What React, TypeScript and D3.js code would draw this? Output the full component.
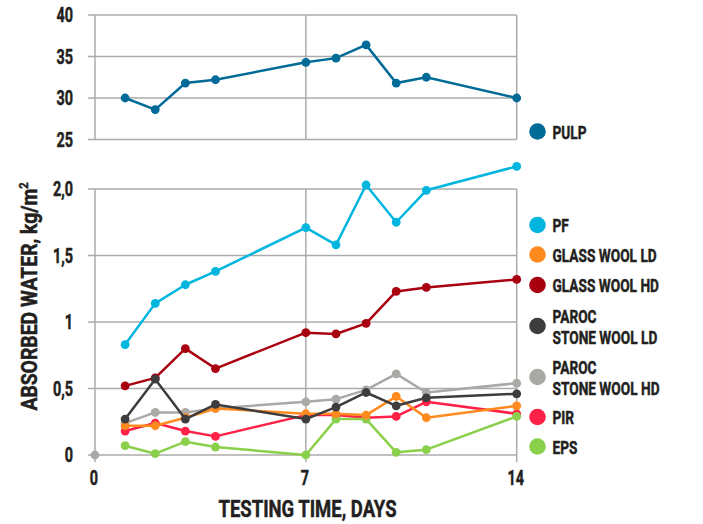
import * as d3 from "d3";

const days = [1, 2, 3, 4, 7, 8, 9, 10, 11, 14];
const pulp = [30.0, 28.6, 31.8, 32.2, 34.3, 34.8, 36.4, 31.8, 32.5, 30.0];
const pf = [0.83, 1.14, 1.28, 1.38, 1.71, 1.58, 2.03, 1.75, 1.99, 2.17];
const glassLD = [0.22, 0.22, 0.28, 0.35, 0.31, 0.31, 0.3, 0.44, 0.28, 0.37];
const glassHD = [0.52, 0.58, 0.8, 0.65, 0.92, 0.91, 0.99, 1.23, 1.26, 1.32];
const parocLD = [0.27, 0.57, 0.27, 0.38, 0.27, 0.36, 0.47, 0.37, 0.43, 0.46];
const parocHD = [0.24, 0.32, 0.32, 0.35, 0.4, 0.42, 0.49, 0.61, 0.47, 0.54];
const pir = [0.18, 0.24, 0.18, 0.14, 0.3, 0.3, 0.28, 0.29, 0.4, 0.31];
const eps = [0.07, 0.01, 0.1, 0.06, 0.0, 0.27, 0.27, 0.02, 0.04, 0.29];

const topTicks = [25, 30, 35, 40];
const bottomTicks = [0, 0.5, 1, 1.5, 2];
const bottomTickLabels = ["0", "0,5", "1", "1,5", "2,0"];
const xTicks = [0, 7, 14];

const colors = {
  pulp: "#006b97",
  pf: "#00b5de",
  glassLD: "#ff8a1e",
  glassHD: "#a8000f",
  parocLD: "#3d3d3f",
  parocHD: "#aaa9a5",
  pir: "#ff2147",
  eps: "#8bd04b",
};

// drawing order (back to front)
const bottomSeries = [
  { key: "pf", values: pf },
  { key: "glassHD", values: glassHD },
  { key: "pir", values: pir },
  { key: "eps", values: eps },
  { key: "parocHD", values: parocHD },
  { key: "glassLD", values: glassLD },
  { key: "parocLD", values: parocLD },
];

const legend = [
  { key: "pulp", lines: ["PULP"], y: 131.5 },
  { key: "pf", lines: ["PF"], y: 225 },
  { key: "glassLD", lines: ["GLASS WOOL LD"], y: 254.5 },
  { key: "glassHD", lines: ["GLASS WOOL HD"], y: 285 },
  { key: "parocLD", lines: ["PAROC", "STONE WOOL LD"], y: 326 },
  { key: "parocHD", lines: ["PAROC", "STONE WOOL HD"], y: 377 },
  { key: "pir", lines: ["PIR"], y: 417 },
  { key: "eps", lines: ["EPS"], y: 446.5 },
];

const FONT = "Roboto, 'Liberation Sans', sans-serif";
const SX = 0.72;
const GRID = "#ababab";
const INK = "#231f20";

function CText({ x, y, size, anchor = "start", children, sx = SX }: any) {
  return (
    <text
      transform={`translate(${x},${y}) scale(${sx},1)`}
      textAnchor={anchor}
      fontFamily={FONT}
      fontWeight={700}
      fontSize={size}
      fill={INK}
      stroke={INK}
      strokeWidth={0.5}
    >
      {children}
    </text>
  );
}

export default function App() {
  const x = d3.scaleLinear().domain([0, 14]).range([95, 516.7]);
  const yTop = d3.scaleLinear().domain([25, 40]).range([139.5, 15]);
  const yBot = d3.scaleLinear().domain([0, 2]).range([455, 189]);

  const lineTop = d3
    .line<number>()
    .x((_, i) => x(days[i]))
    .y((d) => yTop(d));
  const lineBot = d3
    .line<number>()
    .x((_, i) => x(days[i]))
    .y((d) => yBot(d));

  return (
    <svg width={703} height={524} style={{ position: "absolute", left: 0, top: 0 }}>
      <rect width={703} height={524} fill="#fff" />

      {/* top panel grid */}
      {topTicks.map((t) => (
        <line key={"tg" + t} x1={88} x2={x(14)} y1={yTop(t)} y2={yTop(t)} stroke={GRID} strokeWidth={1.5} />
      ))}
      {xTicks.map((t) => (
        <line key={"tv" + t} x1={x(t)} x2={x(t)} y1={yTop(40)} y2={yTop(25)} stroke={GRID} strokeWidth={1.5} />
      ))}
      {topTicks.map((t) => (
        <CText key={"tl" + t} x={73} y={yTop(t) + 7} size={20} anchor="end">
          {t}
        </CText>
      ))}

      {/* bottom panel grid */}
      {bottomTicks.map((t) => (
        <line key={"bg" + t} x1={88} x2={x(14)} y1={yBot(t)} y2={yBot(t)} stroke={GRID} strokeWidth={1.5} />
      ))}
      {xTicks.map((t) => (
        <line key={"bv" + t} x1={x(t)} x2={x(t)} y1={yBot(2)} y2={yBot(0) + 7} stroke={GRID} strokeWidth={1.5} />
      ))}
      {bottomTicks.map((t, i) => (
        <CText key={"bl" + t} x={73} y={yBot(t) + 7} size={20} anchor="end">
          {bottomTickLabels[i]}
        </CText>
      ))}
      {xTicks.map((t) => (
        <CText key={"xl" + t} x={x(t) - 1} y={485} size={20} anchor="middle">
          {t}
        </CText>
      ))}

      {/* axis titles */}
      <CText x={307.5} y={517} size={24} anchor="middle" sx={0.77}>
        TESTING TIME, DAYS
      </CText>
      <g transform="translate(37,296.5) rotate(-90)">
        <text
          transform="scale(0.86,1)"
          textAnchor="middle"
          fontFamily={FONT}
          fontWeight={700}
          fontSize={22.5}
          fill={INK}
          stroke={INK}
          strokeWidth={0.5}
        >
          ABSORBED WATER, kg/m<tspan fontSize={13} dy={-9}>2</tspan>
        </text>
      </g>

      {/* pulp series */}
      <path d={lineTop(pulp) || ""} fill="none" stroke={colors.pulp} strokeWidth={2.5} />
      {pulp.map((v, i) => (
        <circle key={"p" + i} cx={x(days[i])} cy={yTop(v)} r={4.4} fill={colors.pulp} />
      ))}

      {/* day 0 marker */}
      <circle cx={x(0)} cy={yBot(0)} r={4.4} fill={colors.parocHD} />

      {bottomSeries.map((s) => (
        <g key={s.key}>
          <path
            d={lineBot(s.values) || ""}
            fill="none"
            stroke={(colors as any)[s.key]}
            strokeWidth={2.5}
            strokeLinejoin="round"
          />
          {s.values.map((v, i) => (
            <circle key={i} cx={x(days[i])} cy={yBot(v)} r={4.4} fill={(colors as any)[s.key]} />
          ))}
        </g>
      ))}

      {/* legend */}
      {legend.map((l) => {
        const n = l.lines.length;
        return (
          <g key={l.key}>
            <circle cx={537.5} cy={l.y} r={8.3} fill={(colors as any)[l.key]} />
            {l.lines.map((txt, j) => (
              <CText
                key={j}
                x={552.5}
                y={n === 1 ? l.y + 7 : l.y - 3 + j * 20.5}
                size={19}
              >
                {txt}
              </CText>
            ))}
          </g>
        );
      })}
    </svg>
  );
}
